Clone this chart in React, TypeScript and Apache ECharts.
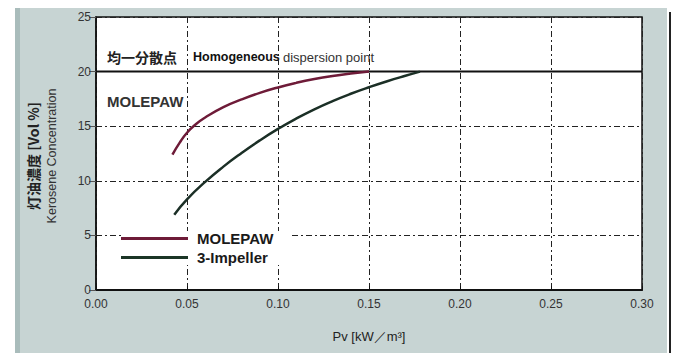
import React, { useEffect, useRef } from "react";
import * as echarts from "echarts";

const xTicks = [0, 0.05, 0.1, 0.15, 0.2, 0.25, 0.3];
const yTicks = [0, 5, 10, 15, 20, 25];
const seriesNames = ["MOLEPAW", "3-Impeller"];
const molepaw: [number, number][] = [
  [0.042, 12.4], [0.046, 13.5], [0.05, 14.4], [0.055, 15.2], [0.06, 15.8],
  [0.07, 16.75], [0.08, 17.45], [0.09, 18.05], [0.1, 18.55], [0.11, 18.97],
  [0.12, 19.32], [0.13, 19.6], [0.14, 19.82], [0.15, 20.0],
];
const impeller: [number, number][] = [
  [0.043, 6.9], [0.05, 8.3], [0.06, 9.9], [0.07, 11.3], [0.08, 12.55],
  [0.09, 13.7], [0.1, 14.75], [0.11, 15.7], [0.12, 16.55], [0.13, 17.3],
  [0.14, 17.97], [0.15, 18.57], [0.16, 19.12], [0.17, 19.62], [0.178, 20.0],
];
const homogeneousLevel = 20;

export default function App() {
  const ref = useRef<HTMLDivElement>(null);
  useEffect(() => {
    if (!ref.current) return;
    const chart = echarts.init(ref.current, null, { renderer: "svg" });
    const font = "Liberation Sans, Arial, sans-serif";
    chart.setOption({
      animation: false,
      backgroundColor: "#ffffff",
      grid: { left: 96, right: 35, top: 17, bottom: 63, show: true, backgroundColor: "#ffffff", borderColor: "#111", borderWidth: 1.5 },
      graphic: [
        { type: "rect", z: -10, shape: { x: 15, y: 8, width: 652, height: 345 }, style: { fill: "#c7d4d3" } },
        { type: "rect", z: -9, shape: { x: 15, y: 8, width: 5, height: 345 }, style: { fill: "#a9bcbb" } },
        { type: "line", shape: { x1: 670, y1: 12, x2: 670, y2: 353 }, style: { stroke: "#222", lineWidth: 2 } },
        { type: "text", x: 33, y: 156, rotation: Math.PI / 2, style: { text: "灯油濃度 [Vol %]", font: "bold 14px 'Noto Sans CJK JP', sans-serif", fill: "#222", align: "center", verticalAlign: "middle" } },
        { type: "text", x: 52, y: 156, rotation: Math.PI / 2, style: { text: "Kerosene Concentration", font: `12.5px ${font}`, fill: "#333", align: "center", verticalAlign: "middle" } },
        { type: "text", x: 107, y: 57, style: { text: "均一分散点", font: "bold 14px 'Noto Sans CJK JP', sans-serif", fill: "#222", verticalAlign: "middle" } },
        { type: "text", x: 193, y: 57, style: { text: "Homogeneous", font: `bold 12.5px ${font}`, fill: "#111", verticalAlign: "middle" } },
        { type: "text", x: 283, y: 57, style: { text: "dispersion point", font: `13px ${font}`, fill: "#333", verticalAlign: "middle" } },
        { type: "text", x: 107, y: 101, style: { text: "MOLEPAW", font: `bold 15px ${font}`, fill: "#333", verticalAlign: "middle" } },
      ],
      legend: {
        data: seriesNames,
        orient: "vertical",
        left: 121,
        top: 231,
        itemWidth: 67,
        itemHeight: 15,
        itemGap: 4,
        icon: "path://M0,0 L67,0 L67,3 L0,3 Z",
        textStyle: { fontFamily: font, fontSize: 15, fontWeight: "bold", color: "#1a1a1a", padding: [0, 0, 0, 4] },
        backgroundColor: "#ffffff",
        padding: [0, 16, 0, 0],
      },
      xAxis: {
        type: "value",
        min: 0,
        max: 0.3,
        interval: 0.05,
        name: "Pv [kW／m³]",
        nameLocation: "middle",
        nameGap: 40,
        nameTextStyle: { fontFamily: font, fontSize: 13, color: "#222" },
        axisLine: { lineStyle: { color: "#111", width: 2 } },
        axisTick: { show: true, inside: true, length: 4, lineStyle: { color: "#111" } },
        axisLabel: { fontFamily: font, fontSize: 12, color: "#333", margin: 8, formatter: (v: number) => v.toFixed(2) },
        splitLine: { show: true, lineStyle: { color: "#222", type: [6, 3, 2, 3], width: 1 } },
      },
      yAxis: {
        type: "value",
        min: 0,
        max: 25,
        interval: 5,
        axisLine: { show: true, lineStyle: { color: "#111", width: 1.5 } },
        axisTick: { show: true, length: 7, lineStyle: { color: "#555" } },
        axisLabel: { fontFamily: font, fontSize: 12, color: "#333", margin: 5 },
        splitLine: { show: true, lineStyle: { color: "#222", type: [6, 3, 2, 3], width: 1 } },
      },
      series: [
        {
          name: "MOLEPAW",
          type: "line",
          data: molepaw,
          smooth: 0.5,
          symbol: "none",
          lineStyle: { color: "#6e1b38", width: 2.5 },
          itemStyle: { color: "#6e1b38" },
          z: 4,
        },
        {
          name: "3-Impeller",
          type: "line",
          data: impeller,
          smooth: 0.5,
          symbol: "none",
          lineStyle: { color: "#1b2f26", width: 2.5 },
          itemStyle: { color: "#1b3526" },
          z: 3,
        },
        {
          name: "Homogeneous",
          type: "line",
          data: [[0, homogeneousLevel], [0.3, homogeneousLevel]],
          symbol: "none",
          lineStyle: { color: "#111", width: 2 },
          z: 2,
        },
      ],
    });
    return () => chart.dispose();
  }, []);
  return <div ref={ref} style={{ position: "fixed", left: 0, top: 0, width: 677, height: 353 }} />;
}
